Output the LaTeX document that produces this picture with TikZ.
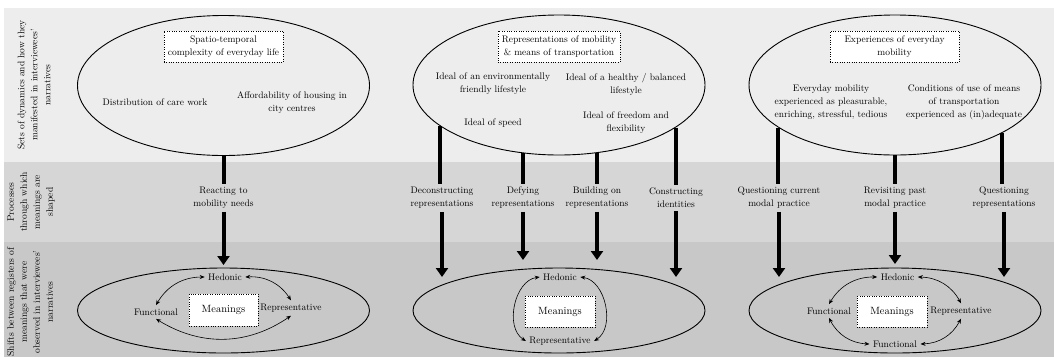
\documentclass[tikz,border=0pt]{standalone}
\usepackage{tikz}
\usetikzlibrary{arrows.meta,shapes.geometric}

\definecolor{bandtop}{RGB}{237,237,237}
\definecolor{bandmid}{RGB}{214,214,214}
\definecolor{bandlow}{RGB}{200,200,200}

\begin{document}
\begin{tikzpicture}[x=1pt,y=-1pt,
    font=\fontsize{9.5}{13}\selectfont,
    region/.style={draw,ellipse,line width=0.9pt,minimum width=292pt},
    title/.style={draw,dotted,fill=white,align=center,inner sep=4pt,minimum height=31pt},
    txt/.style={align=center},
    proc/.style={align=center,inner sep=3pt},
    link/.style={line width=4pt},
    push/.style={line width=4pt,-{Triangle[length=9pt,width=12pt]}},
    swap/.style={line width=0.6pt,{Stealth[length=5pt,width=4pt]}-{Stealth[length=5pt,width=4pt]}},
    side/.style={rotate=90,align=center}]
  \useasboundingbox (0,0) rectangle (1054,357);
  % background rows
  \fill[bandtop] (4,8) rectangle (1054,162);
  \fill[bandmid] (4,162) rectangle (1054,242);
  \fill[bandlow] (4,242) rectangle (1054,357);
  \node[side] (row-a) at (34,85) {Sets of dynamics and how they\\manifested in interviewees'\\narratives};
  \node[side] (row-b) at (31,202) {Processes\\through which\\meanings are\\shaped};
  \node[side] (row-c) at (30,302) {Shifts between registers of\\meanings that were\\observed in interviewees'\\narratives};

  % top row: sets of dynamics
  \node[region,minimum height=140pt] (dyn-a) at (223.5,85.5) {};
  \node[region,minimum height=140pt] (dyn-b) at (559,85) {};
  \node[region,minimum height=140pt] (dyn-c) at (895,85) {};
  \node[title] (dyn-a-t) at (223.5,46.5) {Spatio-temporal\\complexity of everyday life};
  \node[title] (dyn-b-t) at (559,46.5) {Representations of mobility\\\& means of transportation};
  \node[title,minimum width=129pt] (dyn-c-t) at (894.5,46.5) {Experiences of everyday\\mobility};
  \node[txt] (care) at (155,102) {Distribution of care work};
  \node[txt] (housing) at (292,102.5) {Affordability of housing in\\city centres};
  \node[txt] (green) at (493,84) {Ideal of an environmentally\\friendly lifestyle};
  \node[txt] (health) at (626,84) {Ideal of a healthy / balanced\\lifestyle};
  \node[txt] (speed) at (493,123) {Ideal of speed};
  \node[txt] (freedom) at (626,123) {Ideal of freedom and\\flexibility};
  \node[txt] (pleasure) at (831,102) {Everyday mobility\\experienced as pleasurable,\\enriching, stressful, tedious};
  \node[txt] (adequacy) at (964,102) {Conditions of use of means\\of transportation\\experienced as (in)adequate};

  % middle row: processes
  \node[proc] (proc-a) at (223.5,198) {Reacting to\\mobility needs};
  \node[proc] (proc-b1) at (442,198) {Deconstructing\\representations};
  \node[proc] (proc-b2) at (523,198) {Defying\\representations};
  \node[proc] (proc-b3) at (597,198) {Building on\\representations};
  \node[proc] (proc-b4) at (676,198) {Constructing\\identities};
  \node[proc] (proc-c1) at (779,198) {Questioning current\\modal practice};
  \node[proc] (proc-c2) at (895,198) {Revisiting past\\modal practice};
  \node[proc] (proc-c3) at (1004,198) {Questioning\\representations};

  \coordinate (tip-a) at (223.5,265);
  \coordinate (tip-b1) at (442,277);
  \coordinate (tip-b2) at (523,260);
  \coordinate (tip-b3) at (597,260);
  \coordinate (tip-b4) at (676,277);
  \coordinate (tip-c1) at (779,277);
  \coordinate (tip-c2) at (895,264);
  \coordinate (tip-c3) at (1004,277);

  \draw[link] (dyn-a.south) -- (dyn-a.south |- proc-a.north);
  \draw[link] (dyn-b.199.7) -- (dyn-b.199.7 |- proc-b1.north);
  \draw[link] (dyn-b.242) -- (dyn-b.242 |- proc-b2.north);
  \draw[link] (dyn-b.299.4) -- (dyn-b.299.4 |- proc-b3.north);
  \draw[link] (dyn-b.340.3) -- (dyn-b.340.3 |- proc-b4.north);
  \draw[link] (dyn-c.200.1) -- (dyn-c.200.1 |- proc-c1.north);
  \draw[link] (dyn-c.south) -- (dyn-c.south |- proc-c2.north);
  \draw[link] (dyn-c.336.9) -- (dyn-c.336.9 |- proc-c3.north);
  \draw[push] (proc-a.south) -- (tip-a);
  \draw[push] (proc-b1.south) -- (tip-b1);
  \draw[push] (proc-b2.south) -- (tip-b2);
  \draw[push] (proc-b3.south) -- (tip-b3);
  \draw[push] (proc-b4.south) -- (tip-b4);
  \draw[push] (proc-c1.south) -- (tip-c1);
  \draw[push] (proc-c2.south) -- (tip-c2);
  \draw[push] (proc-c3.south) -- (tip-c3);

  % bottom row: shifts between registers of meanings
  \node[region,minimum height=85pt] (reg-a) at (223.5,310.5) {};
  \node[region,minimum height=85pt] (reg-b) at (559,310.5) {};
  \node[region,minimum height=85pt] (reg-c) at (895,310.5) {};

  \node[title,minimum width=69pt,minimum height=32pt,font=\fontsize{10.5}{13}\selectfont] (mean-a) at (223.5,310) {Meanings};
  \node[txt] (hed-a) at (225,277) {Hedonic};
  \node[txt] (fun-a) at (156,312) {Functional};
  \node[txt] (rep-a) at (291,308) {Representative};
  \draw[swap] (fun-a.north) to[bend left=30] (hed-a.west);
  \draw[swap] (hed-a.east) to[bend left=30] (rep-a.north);
  \draw[swap] (fun-a.south) to[bend right=33] (rep-a.south);

  \node[title,minimum width=70pt,minimum height=31pt,font=\fontsize{10.5}{13}\selectfont] (mean-b) at (560,311.5) {Meanings};
  \node[txt] (hed-b) at (560,277) {Hedonic};
  \node[txt] (rep-b) at (560,341) {Representative};
  \draw[swap] (hed-b.west) to[bend right=70] (rep-b.west);
  \draw[swap] (hed-b.east) to[bend left=70] (rep-b.east);

  \node[title,minimum width=70pt,minimum height=31pt,font=\fontsize{10.5}{13}\selectfont] (mean-c) at (892,311.5) {Meanings};
  \node[txt] (hed-c) at (897.5,277) {Hedonic};
  \node[txt] (fun-c) at (829,311) {Functional};
  \node[txt] (rep-c) at (961,311) {Representative};
  \node[txt] (fun-cb) at (895,344) {Functional};
  \draw[swap] (fun-c.north) to[bend left=30] (hed-c.west);
  \draw[swap] (hed-c.east) to[bend left=30] (rep-c.north);
  \draw[swap] (rep-c.south) to[bend left=30] (fun-cb.east);
  \draw[swap] (fun-cb.west) to[bend left=30] (fun-c.south);
\end{tikzpicture}
\end{document}
